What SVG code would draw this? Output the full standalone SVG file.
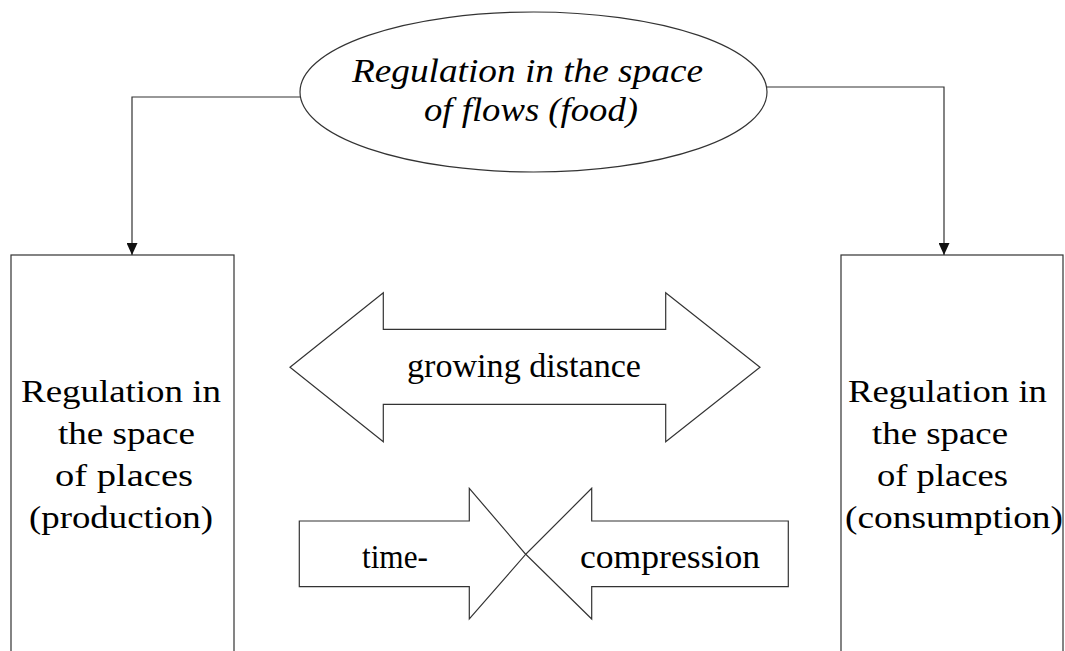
<svg xmlns="http://www.w3.org/2000/svg" width="1065" height="651" viewBox="0 0 1065 651">
  <defs>
    <marker id="tri" viewBox="0 0 12 11" refX="12" refY="5.5" markerWidth="12" markerHeight="11" markerUnits="userSpaceOnUse" orient="auto">
      <path d="M0,0 L12,5.5 L0,11 Z" fill="#111"/>
    </marker>
  </defs>
  <style>
    .shape { fill: #fff; stroke: #333; stroke-width: 1.2; }
    .wire { fill: none; stroke: #333; stroke-width: 1.2; }
    .lbl { font-family: 'Liberation Serif', serif; fill: #000; text-anchor: middle; }
    .box { font-size: 31px; }
    .ital { font-size: 33px; font-style: italic; }
    .arr { font-size: 34px; }
  </style>
  <rect width="1065" height="651" fill="#fff"/>

  <!-- flows ellipse -->
  <g id="flows">
    <ellipse class="shape" cx="533.5" cy="92" rx="233.5" ry="80"/>
    <text class="lbl ital" x="527.5" y="82" textLength="351" lengthAdjust="spacingAndGlyphs">Regulation in the space</text>
    <text class="lbl ital" x="531" y="121" textLength="214" lengthAdjust="spacingAndGlyphs">of flows (food)</text>
  </g>

  <!-- production places -->
  <g id="production">
    <rect class="shape" x="11" y="255" width="223" height="410"/>
    <text class="lbl box" x="121" y="402" textLength="200" lengthAdjust="spacingAndGlyphs">Regulation in</text>
    <text class="lbl box" x="126.5" y="444" textLength="137" lengthAdjust="spacingAndGlyphs">the space</text>
    <text class="lbl box" x="124" y="486" textLength="138" lengthAdjust="spacingAndGlyphs">of places</text>
    <text class="lbl box" x="121" y="528" textLength="184" lengthAdjust="spacingAndGlyphs">(production)</text>
  </g>

  <!-- consumption places -->
  <g id="consumption">
    <rect class="shape" x="841" y="255" width="222" height="410"/>
    <text class="lbl box" x="947.5" y="402" textLength="199" lengthAdjust="spacingAndGlyphs">Regulation in</text>
    <text class="lbl box" x="940" y="444" textLength="136" lengthAdjust="spacingAndGlyphs">the space</text>
    <text class="lbl box" x="942.5" y="486" textLength="131" lengthAdjust="spacingAndGlyphs">of places</text>
    <text class="lbl box" x="954" y="528" textLength="218" lengthAdjust="spacingAndGlyphs">(consumption)</text>
  </g>

  <!-- double arrow: growing distance -->
  <g id="distance">
    <polygon class="shape" points="290,367.3 383.3,292.7 383.3,329.3 665.7,329.3 665.7,292.7 760,367.3 665.7,441.7 665.7,404.3 383.3,404.3 383.3,441.7"/>
    <text class="lbl arr" x="524" y="377" textLength="234" lengthAdjust="spacingAndGlyphs">growing distance</text>
  </g>

  <!-- converging arrows: time-compression -->
  <g id="compression">
    <polygon class="shape" points="299.3,521 469.3,521 469.3,488.3 525.7,554.3 469.3,619 469.3,586.7 299.3,586.7"/>
    <polygon class="shape" points="788.3,521 591.7,521 591.7,488.3 525.7,554.3 591.7,619 591.7,586.7 788.3,586.7"/>
    <text class="lbl arr" x="395" y="568" textLength="66" lengthAdjust="spacingAndGlyphs">time-</text>
    <text class="lbl arr" x="670" y="568" textLength="180" lengthAdjust="spacingAndGlyphs">compression</text>
  </g>

  <!-- connectors -->
  <g id="connectors">
    <polyline class="wire" points="300,97 132,97 132,255" marker-end="url(#tri)"/>
    <polyline class="wire" points="767,87 944,87 944,255" marker-end="url(#tri)"/>
  </g>
</svg>
